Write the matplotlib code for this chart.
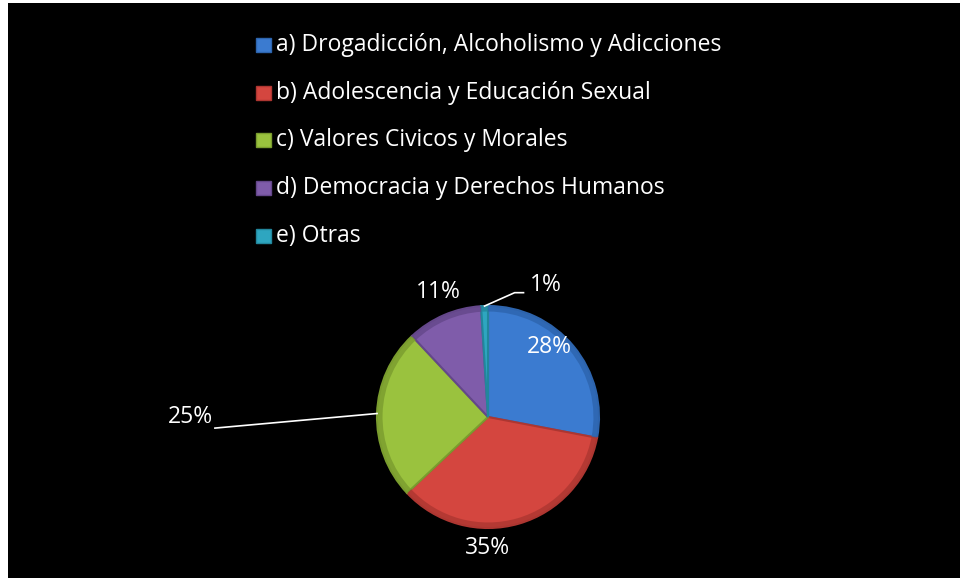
import matplotlib
matplotlib.use("Agg")
import matplotlib.pyplot as plt
from matplotlib.patches import Rectangle
import numpy as np

# data
categories = ["a) Drogadicción, Alcoholismo y Adicciones",
              "b) Adolescencia y Educación Sexual",
              "c) Valores Civicos y Morales",
              "d) Democracia y Derechos Humanos",
              "e) Otras"]
values = [28, 35, 25, 11, 1]
pct_labels = ["28%", "35%", "25%", "11%", "1%"]

colors = ["#3b7bd0", "#d4463f", "#9ac23e", "#7f5caa", "#2ea6c0"]
edges = ["#2d64ad", "#ad3631", "#7a9c2e", "#64478a", "#22869c"]

plt.rcParams["font.family"] = ["Open Sans", "DejaVu Sans"]
W, H = 960, 578
fig = plt.figure(figsize=(9.6, 5.78), dpi=100)
fig.patch.set_facecolor("white")
# black chart area (thin white strip top / left)
fig.patches.append(Rectangle((8 / W, 0), 1, 1 - 3 / H, transform=fig.transFigure,
                             facecolor="black", edgecolor="none", zorder=-10))

# pie axes: radius 1 == 111 px, centred at (488, 417) px
R = 111.0
cx, cy = 488, 417
half = 300
ax = fig.add_axes([(cx - half) / W, (H - cy - half) / H, 2 * half / W, 2 * half / H])

wedges, _ = ax.pie(values, colors=colors, startangle=90, counterclock=False,
                   radius=1.0, wedgeprops=dict(linewidth=0))
for w, e in zip(wedges, edges):
    w.set_edgecolor(e)
    w.set_linewidth(1.5)
# darker rim for a little bevel
ax.pie(values, colors=edges, startangle=90, counterclock=False, radius=1.0,
       wedgeprops=dict(width=0.05, linewidth=0, alpha=0.8))
ax.set_aspect("auto")
ax.set_xlim(-half / R, half / R)
ax.set_ylim(-half / R, half / R)
ax.axis("off")

# label positions (pie-radius units)
lab_pos = [(0.55, 0.63), (0.0, -1.18), (-2.68, 0.0), (-0.45, 1.13), (0.52, 1.19)]
fs = 16.5
for i, (w, t, (lx, ly)) in enumerate(zip(wedges, pct_labels, lab_pos)):
    ax.text(lx, ly, t, color="white", fontsize=fs, ha="center", va="center")

# leader lines for 25% and 1%
def edge_pt(w):
    a = np.deg2rad((w.theta1 + w.theta2) / 2)
    return np.cos(a), np.sin(a)

ex, ey = edge_pt(wedges[2])
ax.plot([-2.46, ex], [-0.10, ey], color="white", lw=1.2)
ex, ey = edge_pt(wedges[4])
ax.plot([ex, 0.24, 0.32], [ey, 1.12, 1.12], color="white", lw=1.2)

# legend drawn by hand
rows_y = [45, 93, 140, 188, 236]
for c, e, lab, yy in zip(colors, edges, categories, rows_y):
    fig.patches.append(Rectangle((256 / W, 1 - (yy + 7) / H), 15 / W, 14 / H,
                                 transform=fig.transFigure, facecolor=c,
                                 edgecolor=e, lw=1))
    fig.text(276 / W, 1 - yy / H, lab, color="white", fontsize=fs,
             ha="left", va="center")

fig.savefig("out.png", dpi=100, facecolor=fig.get_facecolor())
